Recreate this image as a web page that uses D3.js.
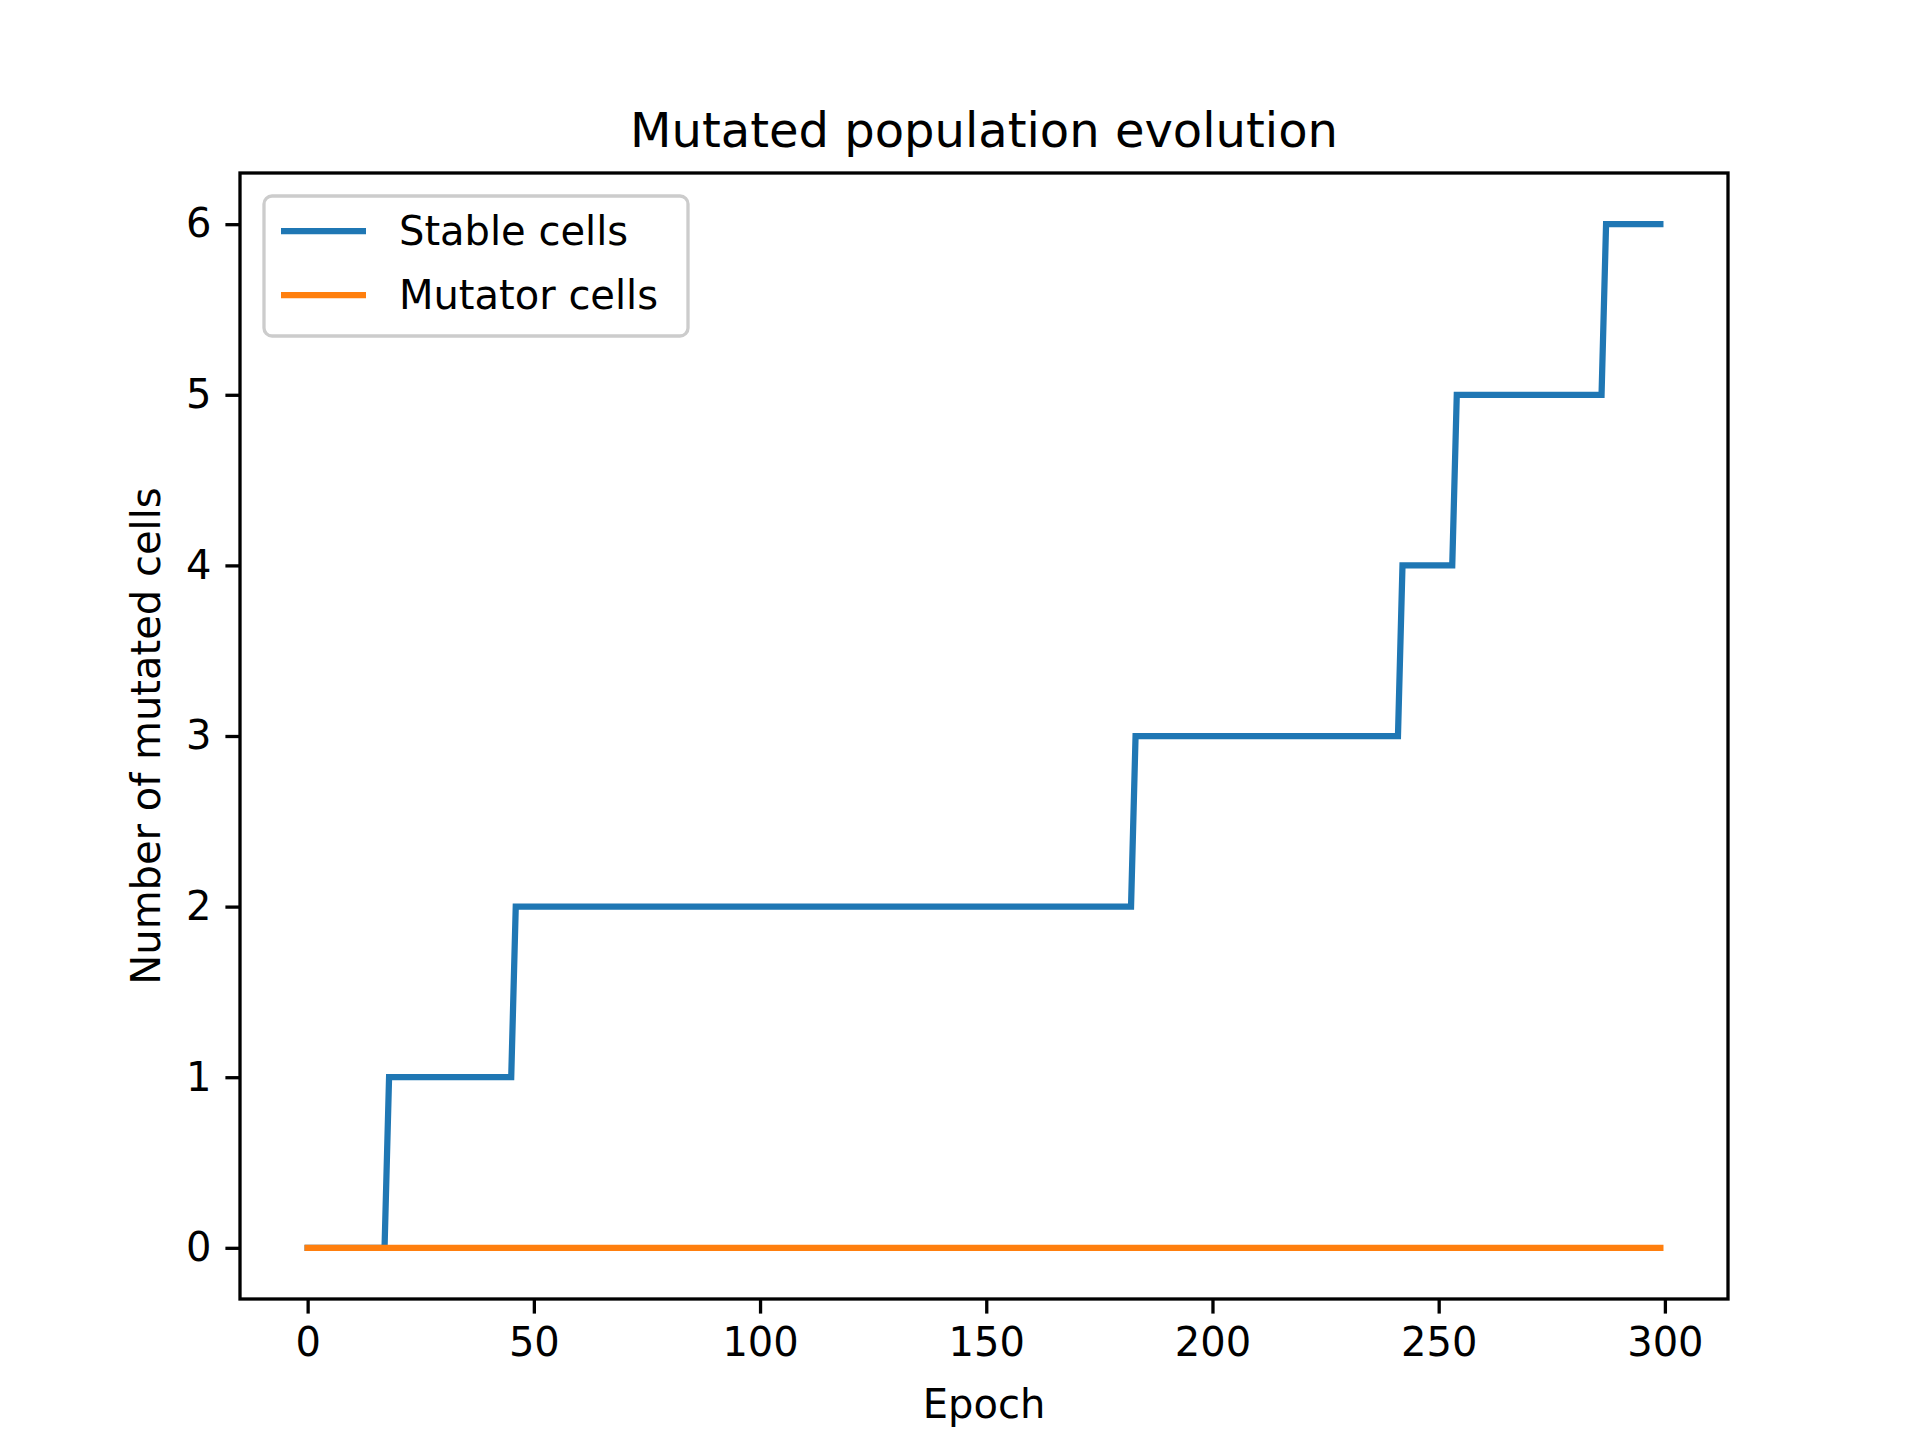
<!DOCTYPE html>
<html><head><meta charset="utf-8">
<script src="https://cdn.jsdelivr.net/npm/d3@7"></script>
<style>body{margin:0;background:#fff}text{font-family:"DejaVu Sans",sans-serif;fill:#000}</style>
</head><body><svg id="c" width="1920" height="1440"></svg>
<script>
// step points
var stableEpochs = [0,17,18,45,46,182,183,241,242,253,254,286,287,299];
var stableValues = [0,0,1,1,2,2,3,3,4,4,5,5,6,6];
var mutatorEpochs = [0,299];
var mutatorValues = [0,0];
var xTicks = [0,50,100,150,200,250,300];
var yTicks = [0,1,2,3,4,5,6];
var seriesNames = ["Stable cells","Mutator cells"];
var colors = ["#1f77b4","#ff7f0e"];

var svg = d3.select("#c");
var L = 240, R = 1728, T = 173, B = 1299;
var x = d3.scaleLinear().domain([-14.95,313.95]).range([L,R]);
var y = d3.scaleLinear().domain([-0.3,6.3]).range([B,T]);

var line = d3.line().x(function(d){return x(d[0])}).y(function(d){return y(d[1])});
var series = [d3.zip(stableEpochs,stableValues), d3.zip(mutatorEpochs,mutatorValues)];
series.forEach(function(s,i){
  svg.append("path").datum(s).attr("d",line).attr("fill","none")
    .attr("stroke",colors[i]).attr("stroke-width",6.25).attr("stroke-linecap","square");
});

function style(g){
  g.select(".domain").remove();
  g.selectAll("line").attr("stroke-width",3.3);
  g.selectAll("text").style("font-size","40px").style("font-family","DejaVu Sans");
}
svg.append("g").attr("transform","translate(0,"+B+")")
  .call(d3.axisBottom(x).tickValues(xTicks).tickFormat(d3.format("d")).tickSize(14.6).tickPadding(14))
  .call(style);
svg.append("g").attr("transform","translate("+L+",0)")
  .call(d3.axisLeft(y).tickValues(yTicks).tickFormat(d3.format("d")).tickSize(14.6).tickPadding(14))
  .call(style);

svg.append("rect").attr("x",L).attr("y",T).attr("width",R-L).attr("height",B-T)
  .attr("fill","none").attr("stroke","#000").attr("stroke-width",3.3);

svg.append("text").attr("x",(L+R)/2).attr("y",147).attr("text-anchor","middle")
  .style("font-size","48px").text("Mutated population evolution");
svg.append("text").attr("x",(L+R)/2).attr("y",1418).attr("text-anchor","middle")
  .style("font-size","40px").text("Epoch");
svg.append("text").attr("transform","translate(160,"+((T+B)/2)+") rotate(-90)")
  .attr("text-anchor","middle").style("font-size","40px").text("Number of mutated cells");

var lg = svg.append("g");
lg.append("rect").attr("x",264).attr("y",196).attr("width",424).attr("height",140).attr("rx",8)
  .attr("fill","#fff").attr("fill-opacity",0.8).attr("stroke","#ccc").attr("stroke-width",3.3);
seriesNames.forEach(function(n,i){
  var yy = 231 + i*64;
  lg.append("line").attr("x1",281).attr("x2",366).attr("y1",yy).attr("y2",yy)
    .attr("stroke",colors[i]).attr("stroke-width",6.25);
  lg.append("text").attr("x",399).attr("y",yy+14).style("font-size","40px").text(n);
});
</script></body></html>
